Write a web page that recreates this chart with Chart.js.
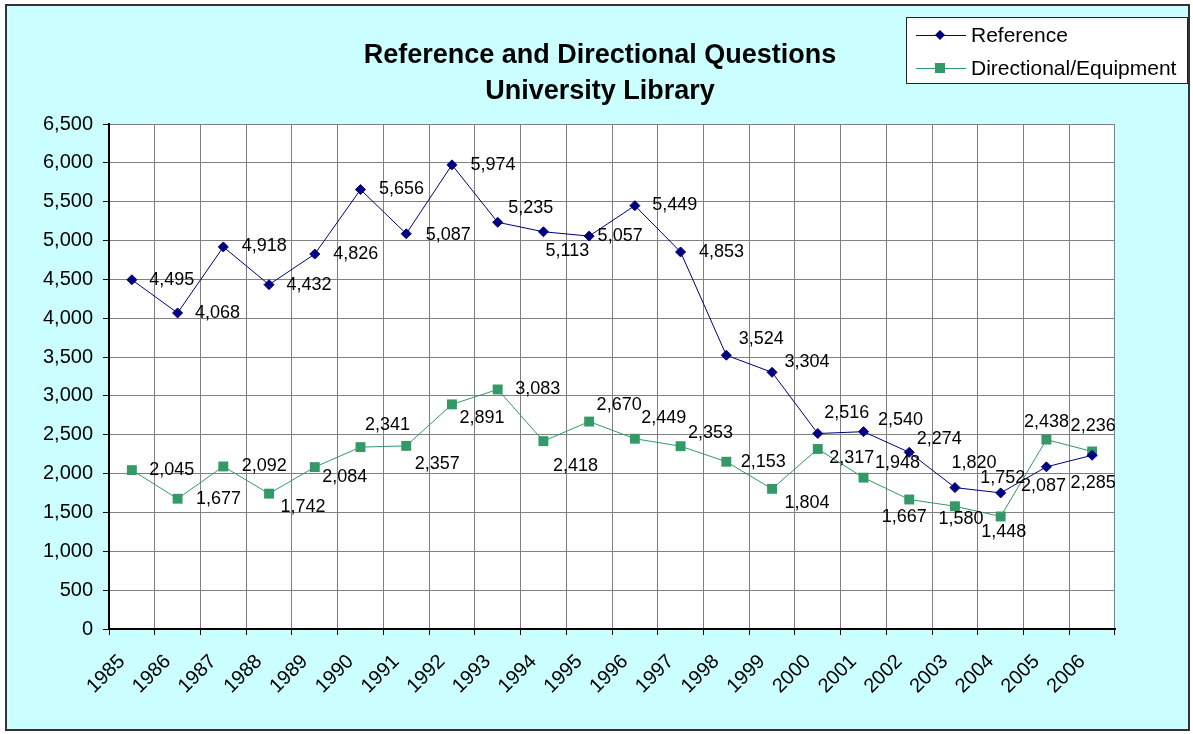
<!DOCTYPE html>
<html>
<head>
<meta charset="utf-8">
<script src="https://cdn.jsdelivr.net/npm/chart.js@4.4.0/dist/chart.umd.min.js"></script>
<style>
  html, body { margin: 0; padding: 0; background: #fff; }
  #wrap { position: relative; width: 1193px; height: 734px; }
</style>
</head>
<body>
<div id="wrap"><canvas id="questionsChart" width="1193" height="734"></canvas></div>
<script>
const years = ['1985', '1986', '1987', '1988', '1989', '1990', '1991', '1992', '1993', '1994', '1995',
  '1996', '1997', '1998', '1999', '2000', '2001', '2002', '2003', '2004', '2005', '2006'];
const referenceVals = [4495, 4068, 4918, 4432, 4826, 5656, 5087, 5974, 5235, 5113, 5057,
  5449, 4853, 3524, 3304, 2516, 2540, 2274, 1820, 1752, 2087, 2236];
const directionalVals = [2045, 1677, 2092, 1742, 2084, 2341, 2357, 2891, 3083, 2418, 2670,
  2449, 2353, 2153, 1804, 2317, 1948, 1667, 1580, 1448, 2438, 2285];
const titleLines = ['Reference and Directional Questions', 'University Library'];

// where each value label sits, in px from its point (hand placed in the original)
const refLabelOffsets = [[40, 0], [40, 0], [41, -1], [40, 0], [41, 0], [41, -1], [42, 1], [41, 0],
  [33, -14], [24, 19], [31, 0], [40, -1], [41, 0], [35, -16], [35, -10], [29, -20], [37, -12],
  [30, -13], [19, -25], [2, -15], [-3, 19], [1, -29]];
const dirLabelOffsets = [[40, 0], [41, 0], [41, 0], [34, 13], [30, 10], [27, -22], [31, 18], [30, 14],
  [40, 0], [32, 25], [30, -17], [29, -21], [30, -13], [37, 0], [35, 14], [34, 9], [34, -15],
  [-5, 18], [6, 13], [3, 16], [0, -18], [1, 32]];

const FONT = 'Arial, "Liberation Sans", sans-serif';
const fmt = v => Number(v).toLocaleString('en-US');

// background, outer border, title and legend box
const framePlugin = {
  id: 'frame',
  beforeDraw(chart) {
    const c = chart.ctx;
    c.save();
    c.fillStyle = '#fff';
    c.fillRect(0, 0, chart.width, chart.height);
    c.fillStyle = '#CCFFFF';
    c.fillRect(5, 4, 1185, 727);
    c.lineWidth = 2;
    c.strokeStyle = '#333';
    c.strokeRect(6, 5, 1183, 725);
    // plot area
    const a = chart.chartArea;
    c.fillStyle = '#fff';
    c.fillRect(a.left, a.top, a.right - a.left, a.bottom - a.top);
    c.restore();
  },
  afterDraw(chart) {
    const c = chart.ctx;
    c.save();
    // title
    c.fillStyle = '#000';
    c.font = 'bold 27px ' + FONT;
    c.textAlign = 'center';
    c.textBaseline = 'middle';
    c.fillText(titleLines[0], 600, 56);
    c.fillText(titleLines[1], 600, 92);

    // legend
    c.fillStyle = '#fff';
    c.fillRect(906, 17, 281, 66);
    c.lineWidth = 1;
    c.strokeStyle = '#222';
    c.strokeRect(906.5, 17.5, 281, 66);
    chart.data.datasets.forEach((ds, i) => {
      const y = 35 + i * 33;
      c.strokeStyle = ds.borderColor;
      c.lineWidth = 1;
      c.beginPath();
      c.moveTo(916, y + 0.5);
      c.lineTo(966, y + 0.5);
      c.stroke();
      c.fillStyle = ds.pointBackgroundColor;
      c.beginPath();
      if (ds.pointStyle === 'rectRot') {
        c.moveTo(940, y - 5); c.lineTo(945, y); c.lineTo(940, y + 5); c.lineTo(935, y);
      } else {
        c.rect(935, y - 5, 10, 10);
      }
      c.closePath();
      c.fill();
      c.fillStyle = '#000';
      c.font = '21px ' + FONT;
      c.textAlign = 'left';
      c.fillText(ds.label, 971, y + 1);
    });
    c.restore();
  }
};

// value labels next to each point
const valueLabelPlugin = {
  id: 'valueLabels',
  afterDatasetsDraw(chart) {
    const c = chart.ctx;
    c.save();
    c.fillStyle = '#000';
    c.font = '18px ' + FONT;
    c.textAlign = 'center';
    c.textBaseline = 'middle';
    chart.data.datasets.forEach((ds, i) => {
      const meta = chart.getDatasetMeta(i);
      meta.data.forEach((pt, j) => {
        const off = ds.labelOffsets[j];
        c.fillText(fmt(ds.data[j]), pt.x + off[0], pt.y + off[1]);
      });
    });
    c.restore();
  }
};

const ctx = document.getElementById('questionsChart').getContext('2d');
new Chart(ctx, {
  type: 'line',
  data: {
    labels: years,
    datasets: [
      {
        label: 'Reference',
        data: referenceVals,
        labelOffsets: refLabelOffsets,
        borderColor: '#000080',
        borderWidth: 1,
        pointStyle: 'rectRot',
        pointRadius: 5,
        pointHoverRadius: 5,
        pointBackgroundColor: '#000080',
        pointBorderColor: '#000080',
        pointBorderWidth: 1,
        tension: 0
      },
      {
        label: 'Directional/Equipment',
        data: directionalVals,
        labelOffsets: dirLabelOffsets,
        borderColor: '#339966',
        borderWidth: 1,
        pointStyle: 'rect',
        pointRadius: 7,
        pointHoverRadius: 7,
        pointBackgroundColor: '#339966',
        pointBorderColor: '#339966',
        pointBorderWidth: 0,
        tension: 0
      }
    ]
  },
  options: {
    responsive: false,
    animation: false,
    layout: { padding: { left: 0, top: 124, right: 78, bottom: 0 } },
    plugins: {
      legend: { display: false },
      title: { display: false },
      tooltip: { enabled: false }
    },
    scales: {
      x: {
        type: 'category',
        offset: true,
        grid: { offset: true, color: '#808080', lineWidth: 1, tickLength: 6, tickColor: '#000' },
        border: { color: '#000', width: 2 },
        ticks: {
          color: '#000',
          autoSkip: false,
          maxRotation: 45,
          minRotation: 45,
          padding: 15,
          labelOffset: -10,
          font: { size: 20, family: FONT }
        },
        afterFit(scale) { scale.height = 105; }
      },
      y: {
        min: 0,
        max: 6500,
        grid: { color: '#808080', lineWidth: 1, tickLength: 6, tickColor: '#000' },
        border: { color: '#000', width: 2 },
        ticks: {
          stepSize: 500,
          color: '#000',
          padding: 10,
          font: { size: 20, family: FONT },
          callback: v => fmt(v)
        },
        afterFit(scale) { scale.width = 109; }
      }
    }
  },
  plugins: [framePlugin, valueLabelPlugin]
});
</script>
</body>
</html>
